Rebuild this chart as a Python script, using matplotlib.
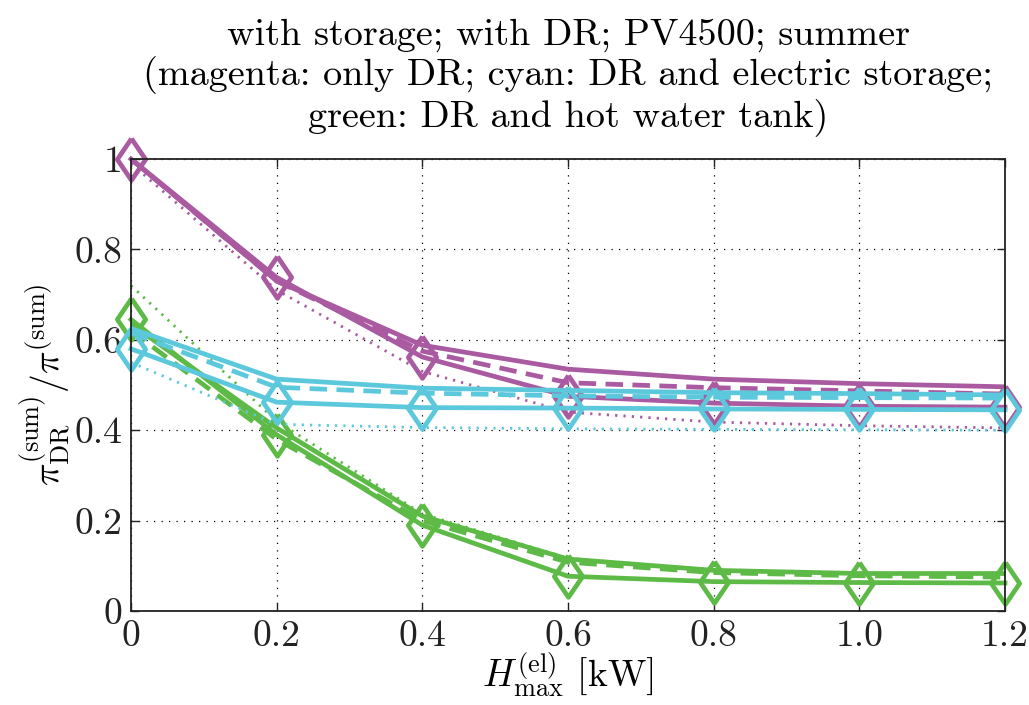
import matplotlib
matplotlib.use("Agg")
import matplotlib.pyplot as plt

plt.rcParams["font.family"] = ["cmr10", "DejaVu Serif"]
plt.rcParams["mathtext.fontset"] = "cm"
plt.rcParams["axes.formatter.use_mathtext"] = True

# ------------------------------------------------------------------ #
# data
# ------------------------------------------------------------------ #
h_max = [0, 0.2, 0.4, 0.6, 0.8, 1.0, 1.2]
x_labels = ["0", "0.2", "0.4", "0.6", "0.8", "1.0", "1.2"]
y_ticks = [0, 0.2, 0.4, 0.6, 0.8, 1.0]
y_labels = ["0", "0.2", "0.4", "0.6", "0.8", "1"]

magenta_marker = [1.0, 0.738, 0.562, 0.475, 0.46, 0.453, 0.451]
magenta_upper = [1.0, 0.73, 0.588, 0.535, 0.513, 0.503, 0.496]
magenta_dashed = [1.0, 0.73, 0.575, 0.505, 0.494, 0.487, 0.48]
magenta_dotted = [0.99, 0.71, 0.53, 0.44, 0.418, 0.41, 0.405]

cyan_marker = [0.58, 0.462, 0.45, 0.449, 0.447, 0.446, 0.445]
cyan_upper = [0.625, 0.513, 0.493, 0.488, 0.483, 0.481, 0.478]
cyan_dashed = [0.615, 0.495, 0.482, 0.476, 0.473, 0.472, 0.471]
cyan_dotted = [0.55, 0.413, 0.406, 0.403, 0.402, 0.401, 0.40]

green_marker = [0.645, 0.39, 0.19, 0.077, 0.065, 0.063, 0.062]
green_upper = [0.635, 0.405, 0.21, 0.115, 0.09, 0.083, 0.083]
green_dashed = [0.62, 0.38, 0.2, 0.108, 0.085, 0.078, 0.075]
green_dotted = [0.72, 0.42, 0.215, 0.117, 0.09, 0.084, 0.082]

MAGENTA = "#a95aa0"
CYAN = "#5bc8dc"
GREEN = "#5eba47"

# MATLAB-like diamond: a bit wider than matplotlib's thin 'd'
DIAMOND = [(0, 1), (0.68, 0), (0, -1), (-0.68, 0), (0, 1)]

groups = [
    (MAGENTA, magenta_marker, magenta_upper, magenta_dashed, magenta_dotted),
    (GREEN, green_marker, green_upper, green_dashed, green_dotted),
    (CYAN, cyan_marker, cyan_upper, cyan_dashed, cyan_dotted),
]

fig = plt.figure(figsize=(10.29, 7.05), dpi=100)
ax = fig.add_axes([0.1273, 0.1333, 0.8494, 0.6412])

for color, marker_vals, upper, dashed, dotted in groups:
    ax.plot(h_max, dotted, linestyle=(0, (0.8, 2.2)), color=color, linewidth=2.0)
    ax.plot(h_max, dashed, linestyle=(0, (3.7, 2.0)), color=color, linewidth=3.4)
    ax.plot(h_max, upper, linestyle="-", color=color, linewidth=3.4)
    ax.plot(h_max, marker_vals, linestyle="-", color=color, linewidth=3.4,
            marker=DIAMOND, markersize=30, markerfacecolor="none",
            markeredgecolor=color, markeredgewidth=3.4, clip_on=False)

ax.set_xlim(0, 1.2)
ax.set_ylim(0, 1)
ax.set_xticks(h_max)
ax.set_xticklabels(x_labels)
ax.set_yticks(y_ticks)
ax.set_yticklabels(y_labels)
ax.tick_params(direction="in", top=True, right=True, labelsize=27,
               length=6, width=1, colors="#222222", pad=6)
ax.grid(True, linestyle=(0, (1, 5)), color="black", linewidth=0.9)
for sp in ax.spines.values():
    sp.set_linewidth(1.3)
    sp.set_color("#222222")

ax.set_xlabel(r"$H^{(\mathrm{el})}_{\max}$ [kW]", fontsize=27, labelpad=-2)
ax.set_ylabel(r"$\pi^{(\mathrm{sum})}_{\mathrm{DR}}/\pi^{(\mathrm{sum})}$",
              fontsize=27, labelpad=2)
ax.set_title("with storage; with DR; PV4500; summer\n"
             "(magenta: only DR; cyan: DR and electric storage;\n"
             "green: DR and hot water tank)",
             fontsize=27.5, linespacing=1.13, pad=24)

fig.savefig("out.png", dpi=100)
